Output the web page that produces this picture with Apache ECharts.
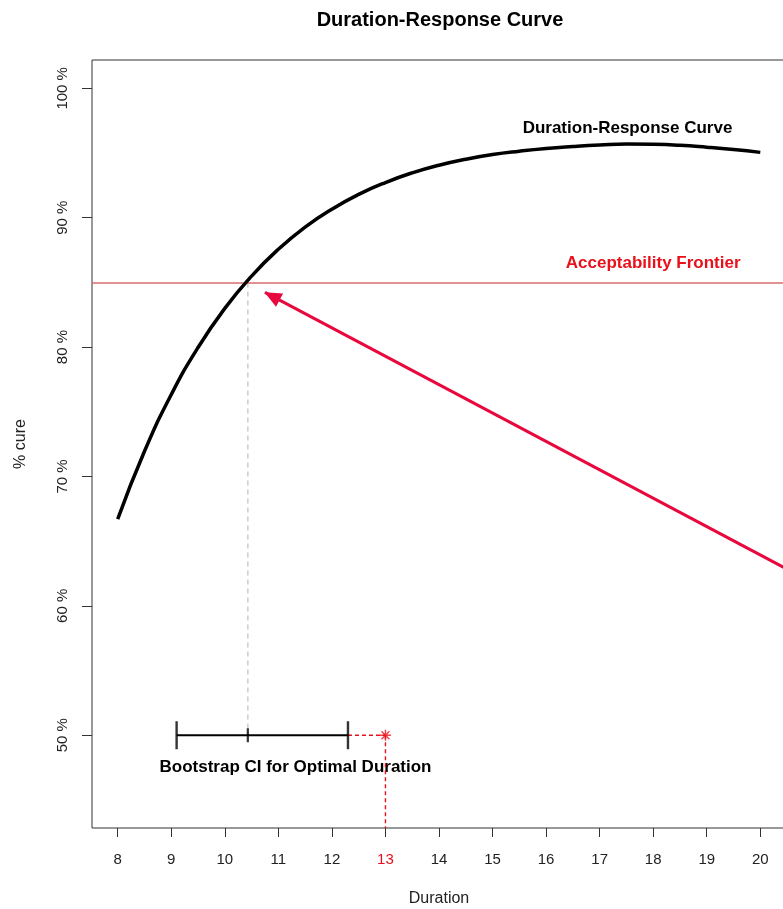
<!DOCTYPE html>
<html>
<head>
<meta charset="utf-8">
<script src="https://cdn.jsdelivr.net/npm/echarts@6/dist/echarts.min.js"></script>
<style>html,body{margin:0;padding:0;background:#fff;}#c{width:783px;height:909px;}</style>
</head>
<body>
<div id="c"></div>
<script>
// ---- data ----
const durations = [8, 8.5, 9, 9.5, 10, 10.5, 11, 11.5, 12, 12.5, 13, 13.5, 14, 14.5, 15, 15.5, 16, 16.5, 17, 17.5, 18, 18.5, 19, 19.5, 20];
const cure = [66.7, 71.95, 76.33, 79.97, 82.99, 85.49, 87.56, 89.27, 90.66, 91.8, 92.72, 93.47, 94.06, 94.52, 94.88, 95.14, 95.35, 95.5, 95.62, 95.7, 95.68, 95.6, 95.45, 95.27, 95.05];
const xTicks = [8, 9, 10, 11, 12, 13, 14, 15, 16, 17, 18, 19, 20];
const yTicks = [50, 60, 70, 80, 90, 100];
const frontier = 85;
const ciLower = 9.1, ciMid = 10.43, ciUpper = 12.3, ciLevel = 50;
const optimal = 13;
const arrowFrom = [20.47, 62.9];
const arrowTo = [10.75, 84.23];
const xMin = 7.52, xMax = 20.48, yMin = 42.83, yMax = 102.19;

const FONT = 'Liberation Sans, Arial, sans-serif';
const chart = echarts.init(document.getElementById('c'), null, {renderer: 'canvas'});
const curveData = durations.map((d, i) => [d, cure[i]]);

chart.setOption({
  animation: false,
  backgroundColor: '#fff',
  title: {
    text: 'Duration-Response Curve',
    left: 435, top: 5, textAlign: 'center',
    textStyle: {fontFamily: FONT, fontSize: 20, fontWeight: 'bold', color: '#000'}
  },
  grid: {left: 92, top: 60, right: -3, bottom: 81, outerBoundsMode: 'none', containLabel: false,
    show: true, borderColor: '#333', borderWidth: 1, backgroundColor: 'transparent'},
  xAxis: {
    type: 'value', min: xMin, max: xMax,
    name: 'Duration', nameLocation: 'middle', nameGap: 63,
    nameTextStyle: {fontFamily: FONT, fontSize: 16, color: '#222'},
    axisLine: {show: false},
    splitLine: {show: false},
    axisTick: {show: true, customValues: xTicks, length: 9, lineStyle: {color: '#333'}},
    axisLabel: {
      customValues: xTicks, margin: 24,
      fontFamily: FONT, fontSize: 15,
      color: (v) => (Number(v) === optimal ? '#e8101a' : '#222')
    }
  },
  yAxis: {
    type: 'value', min: yMin, max: yMax,
    name: '% cure', nameLocation: 'middle', nameGap: 63, nameRotate: 90,
    nameTextStyle: {fontFamily: FONT, fontSize: 16, color: '#222'},
    axisLine: {show: false},
    splitLine: {show: false},
    axisTick: {show: true, customValues: yTicks, length: 10, lineStyle: {color: '#333'}},
    axisLabel: {
      customValues: yTicks, margin: 22, rotate: 90,
      fontFamily: FONT, fontSize: 15, color: '#222',
      formatter: (v) => v + ' %'
    }
  },
  series: [
    {
      type: 'line', name: 'curve', data: curveData, smooth: true, symbol: 'none',
      clip: false,
      lineStyle: {color: '#000', width: 3.5},
      markLine: {
        silent: true, symbol: 'none',
        label: {show: false},
        data: [
          {yAxis: frontier, lineStyle: {color: '#da6b6e', width: 1.5, type: 'solid'}},
          [
            {coord: arrowFrom, symbol: 'none', lineStyle: {color: '#e8083e', width: 3, type: 'solid'}},
            {coord: arrowTo, symbol: 'triangle', symbolSize: [15, 17], symbolOffset: [0, 8]}
          ]
        ]
      },
      z: 5
    },
    {
      type: 'line', name: 'dropline', data: [[ciMid, frontier], [ciMid, ciLevel]], symbol: 'none',
      lineStyle: {color: '#cccccc', width: 1.5, type: [5, 4]}, z: 2
    },
    {
      type: 'line', name: 'ci', data: [[ciLower, ciLevel], [ciUpper, ciLevel]], symbol: 'none',
      lineStyle: {color: '#000', width: 2.2}, z: 4
    },
    {
      type: 'scatter', name: 'ciEnds', data: [[ciLower, ciLevel], [ciUpper, ciLevel]],
      symbol: 'rect', symbolSize: [2.4, 28], itemStyle: {color: '#000'}, z: 4
    },
    {
      type: 'scatter', name: 'ciMid', data: [[ciMid, ciLevel]],
      symbol: 'rect', symbolSize: [2.2, 14], itemStyle: {color: '#000'}, z: 4
    },
    {
      type: 'line', name: 'optH', data: [[ciUpper, ciLevel], [optimal, ciLevel]], symbol: 'none',
      lineStyle: {color: '#e8101a', width: 1.4, type: [4, 3]}, z: 3
    },
    {
      type: 'line', name: 'optV', data: [[optimal, ciLevel], [optimal, yMin]], symbol: 'none',
      lineStyle: {color: '#e8101a', width: 1.4, type: [4, 3]}, z: 3
    },
    {
      type: 'scatter', name: 'opt', data: [[optimal, ciLevel]],
      symbol: 'path://M0,-6L0,6M-6,0L6,0M-4.3,-4.3L4.3,4.3M-4.3,4.3L4.3,-4.3',
      symbolSize: 11,
      itemStyle: {color: 'none', borderColor: '#e8101a', borderWidth: 1.4}, z: 6
    }
  ],
  graphic: []
});

function placeTexts() {
  const p1 = chart.convertToPixel({gridIndex: 0}, [17.52, 96.9]);
  const p2 = chart.convertToPixel({gridIndex: 0}, [18.0, 86.45]);
  const p3 = chart.convertToPixel({gridIndex: 0}, [11.32, 47.5]);
  chart.setOption({
    graphic: [
      {type: 'text', x: p1[0], y: p1[1], style: {text: 'Duration-Response Curve', fontFamily: FONT, fontSize: 17, fontWeight: 'bold', fill: '#000', align: 'center', verticalAlign: 'middle'}},
      {type: 'text', x: p2[0], y: p2[1], style: {text: 'Acceptability Frontier', fontFamily: FONT, fontSize: 17, fontWeight: 'bold', fill: '#e8101a', align: 'center', verticalAlign: 'middle'}},
      {type: 'text', x: p3[0], y: p3[1], style: {text: 'Bootstrap CI for Optimal Duration', fontFamily: FONT, fontSize: 17, fontWeight: 'bold', fill: '#000', align: 'center', verticalAlign: 'middle'}}
    ]
  });
}
placeTexts();
</script>
</body>
</html>
